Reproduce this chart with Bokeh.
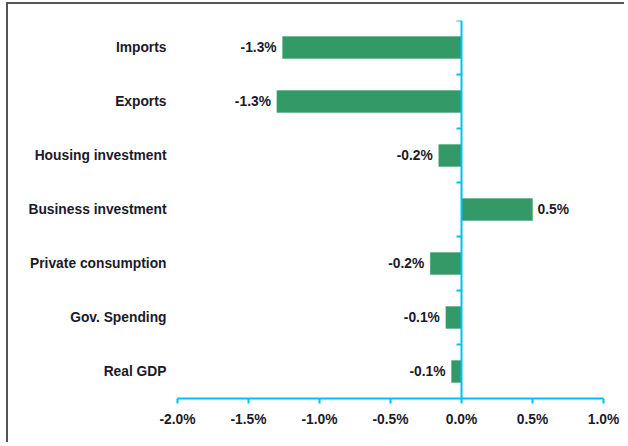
import math
from bokeh.plotting import figure
from bokeh.models import (Range1d, FixedTicker, PrintfTickFormatter, Span, ColumnDataSource,
                          CustomJSTickFormatter)
from bokeh.core.properties import value
from bokeh.embed import file_html
from bokeh.resources import INLINE

categories = ["Imports", "Exports", "Housing investment", "Business investment",
              "Private consumption", "Gov. Spending", "Real GDP"]
values = [-1.26, -1.30, -0.16, 0.50, -0.22, -0.11, -0.07]
x_ticks = [-2.0, -1.5, -1.0, -0.5, 0.0, 0.5, 1.0]

FONT = "Liberation Sans"
TXT = "#1a1a2a"
CYAN = "#00BFFF"
GREEN = "#339966"
FS = "13.8px"

n = len(categories)
ypos = [n - 1 - i + 0.5 for i in range(n)]   # Imports at top

p = figure(width=618, height=440, output_backend="svg", toolbar_location=None,
           x_range=Range1d(x_ticks[0], x_ticks[-1]),
           y_range=Range1d(0, n))
p.min_border_left = 169
p.min_border_right = 23
p.min_border_top = 16
p.min_border_bottom = 46
p.outline_line_color = None
p.xgrid.grid_line_color = None
p.ygrid.grid_line_color = None
p.background_fill_color = "white"
p.border_fill_color = "white"
p.styles = {"border-left": "2px solid #555555", "border-top": "2px solid #555555",
            "margin-left": "6px", "margin-top": "2px"}

labels = [("%.1f%%" % v) for v in values]
src = ColumnDataSource(dict(
    y=ypos, v=values, lab=labels,
    off=[-6 if v < 0 else 5 for v in values],
    al=["right" if v < 0 else "left" for v in values],
))

p.hbar(y="y", left=0, right="v", height=0.41, source=src,
       fill_color=GREEN, line_color="#4aa87a", line_width=0.5)

p.text(x="v", y="y", text="lab", x_offset="off", text_align="al", source=src,
       text_baseline="middle", text_font=value(FONT), text_font_style="bold",
       text_font_size=FS, text_color=TXT)

# vertical axis line at zero
p.add_layout(Span(location=0, dimension="height", line_color=CYAN, line_width=2))
# category boundary ticks
bounds = list(range(1, n + 1))
p.ray(x=[0] * len(bounds), y=bounds, length=5, length_units="screen", angle=math.pi,
      line_color=CYAN, line_width=2)

# x axis
xa = p.xaxis[0]
xa.ticker = FixedTicker(ticks=x_ticks)
xa.formatter = PrintfTickFormatter(format="%.1f%%")
xa.axis_line_color = CYAN
xa.axis_line_width = 2
xa.major_tick_line_color = CYAN
xa.major_tick_line_width = 2
xa.major_tick_out = 5
xa.major_tick_in = 0
xa.minor_tick_line_color = None
xa.major_label_text_font = FONT
xa.major_label_text_font_style = "bold"
xa.major_label_text_font_size = FS
xa.major_label_text_color = TXT
xa.major_label_standoff = 8

# y axis (category labels only)
ya = p.yaxis[0]
ya.ticker = FixedTicker(ticks=ypos, minor_ticks=[])
ya.formatter = CustomJSTickFormatter(args=dict(cats=categories),
                                     code="return cats[cats.length - 1 - Math.floor(tick)];")
ya.axis_line_color = None
ya.major_tick_line_color = None
ya.minor_tick_line_color = None
ya.major_tick_out = 0
ya.major_tick_in = 0
ya.major_label_standoff = 11
ya.major_label_text_font = FONT
ya.major_label_text_font_style = "bold"
ya.major_label_text_font_size = FS
ya.major_label_text_color = TXT

open("out.html", "w").write(file_html(p, INLINE))
